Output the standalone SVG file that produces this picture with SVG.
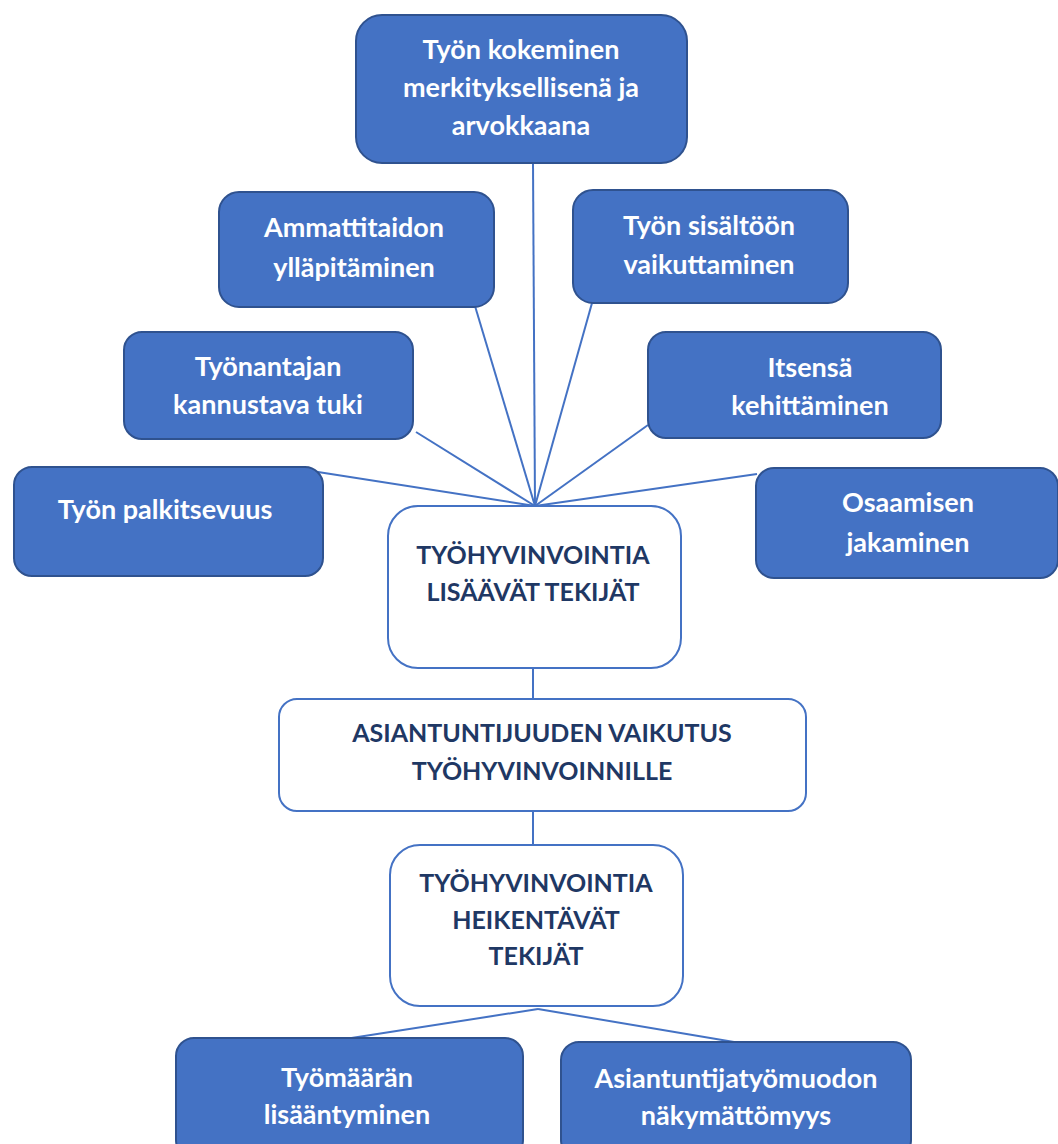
<svg xmlns="http://www.w3.org/2000/svg" width="1058" height="1144" viewBox="0 0 1058 1144">
<style>
.b{fill:#4472C4;stroke:#2F528F;stroke-width:2}
.w{fill:#fff;stroke:#4472C4;stroke-width:2}
.bt{font-family:Lato,"Open Sans",sans-serif;font-weight:bold;font-size:27px;fill:#fff;text-anchor:middle}
.wt{font-family:Lato,"Open Sans",sans-serif;font-weight:bold;font-size:25px;fill:#1F3864;text-anchor:middle}
.c{stroke:#4472C4;stroke-width:2;fill:none}
</style>
<rect width="1058" height="1144" fill="#fff"/>
<g id="connectors">
<line class="c" x1="533" y1="163" x2="535" y2="506"/>
<line class="c" x1="475" y1="306" x2="535" y2="506"/>
<line class="c" x1="592" y1="303" x2="535" y2="506"/>
<line class="c" x1="416" y1="432" x2="535" y2="506"/>
<line class="c" x1="648" y1="425" x2="535" y2="506"/>
<line class="c" x1="318" y1="472" x2="535" y2="506"/>
<line class="c" x1="757" y1="474" x2="535" y2="506"/>
<line class="c" x1="533" y1="668" x2="533" y2="700"/>
<line class="c" x1="533" y1="811" x2="533" y2="845"/>
<line class="c" x1="538" y1="1009" x2="345" y2="1039"/>
<line class="c" x1="538" y1="1009" x2="740" y2="1043"/>
</g>
<g id="n-top"><rect class="b" x="356" y="15" width="331" height="148" rx="26"/>
<text class="bt" x="521" y="59">Työn kokeminen</text><text class="bt" x="521" y="97">merkityksellisenä ja</text><text class="bt" x="521" y="135">arvokkaana</text></g>
<g id="n-ammatti"><rect class="b" x="219" y="192" width="275" height="115" rx="20"/>
<text class="bt" x="354" y="237">Ammattitaidon</text><text class="bt" x="354" y="277">ylläpitäminen</text></g>
<g id="n-sisalto"><rect class="b" x="573" y="190" width="275" height="113" rx="20"/>
<text class="bt" x="709" y="235">Työn sisältöön</text><text class="bt" x="709" y="274">vaikuttaminen</text></g>
<g id="n-tyonantaja"><rect class="b" x="124" y="332" width="289" height="107" rx="18"/>
<text class="bt" x="268" y="376">Työnantajan</text><text class="bt" x="268" y="414">kannustava tuki</text></g>
<g id="n-itsensa"><rect class="b" x="648" y="332" width="293" height="106" rx="18"/>
<text class="bt" x="810" y="377">Itsensä</text><text class="bt" x="810" y="415">kehittäminen</text></g>
<g id="n-palkitsevuus"><rect class="b" x="14" y="467" width="309" height="109" rx="18"/>
<text class="bt" x="165" y="519">Työn palkitsevuus</text></g>
<g id="n-osaaminen"><rect class="b" x="756" y="468" width="302" height="110" rx="18"/>
<text class="bt" x="908" y="512">Osaamisen</text><text class="bt" x="908" y="552">jakaminen</text></g>
<g id="n-lisaavat"><rect class="w" x="388" y="506" width="293" height="162" rx="30"/>
<text class="wt" x="533" y="564">TYÖHYVINVOINTIA</text><text class="wt" x="533" y="601">LISÄÄVÄT TEKIJÄT</text></g>
<g id="n-asiantuntijuus"><rect class="w" x="279" y="699" width="527" height="112" rx="18"/>
<text class="wt" x="542" y="742">ASIANTUNTIJUUDEN VAIKUTUS</text><text class="wt" x="542" y="780">TYÖHYVINVOINNILLE</text></g>
<g id="n-heikentavat"><rect class="w" x="390" y="845" width="293" height="161" rx="30"/>
<text class="wt" x="536" y="892">TYÖHYVINVOINTIA</text><text class="wt" x="536" y="929">HEIKENTÄVÄT</text><text class="wt" x="536" y="965">TEKIJÄT</text></g>
<g id="n-tyomaara"><rect class="b" x="176" y="1038" width="347" height="120" rx="18"/>
<text class="bt" x="347" y="1087">Työmäärän</text><text class="bt" x="347" y="1124">lisääntyminen</text></g>
<g id="n-nakymattomyys"><rect class="b" x="561" y="1042" width="350" height="116" rx="18"/>
<text class="bt" x="736" y="1088">Asiantuntijatyömuodon</text><text class="bt" x="736" y="1125">näkymättömyys</text></g>
</svg>
